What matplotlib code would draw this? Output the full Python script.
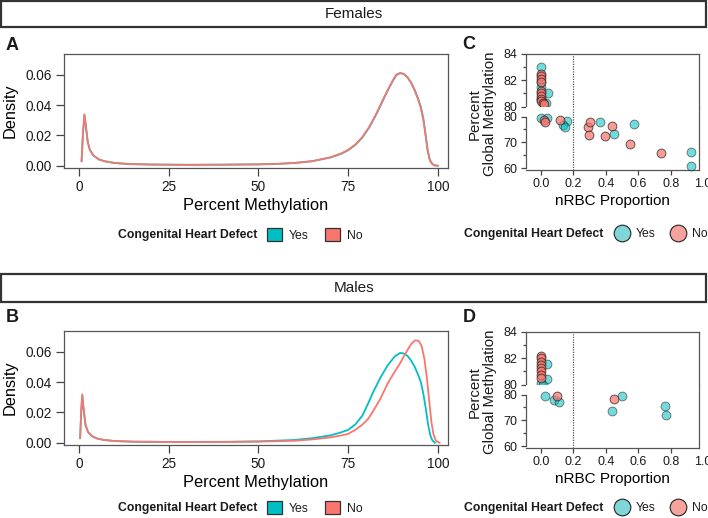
import matplotlib
matplotlib.use('Agg')
import matplotlib.pyplot as plt
from matplotlib.patches import Patch, Rectangle
from matplotlib.lines import Line2D
from matplotlib.ticker import FormatStrFormatter, MultipleLocator

W, H = 708, 518
TEAL = '#00BFC4'
RED = '#F8766D'

# ---- density curves ----
fem_yes_x = [0.7, 1.1, 1.5, 1.9, 2.4, 3.0, 4.0, 5.5, 7.0, 10, 14, 20, 30, 40, 50, 55, 60, 65, 70, 73, 75, 77,
             79, 81, 83, 85, 86.5, 87.5, 88.5, 89.5, 90.5, 91.5, 92.5, 93.5, 94.5, 95.3, 96.0, 96.6, 97.2, 97.8,
             98.5, 99.2, 100]
fem_yes_y = [0.003, 0.022, 0.0335, 0.026, 0.016, 0.0105, 0.0068, 0.0042, 0.003, 0.0018, 0.0011, 0.0008, 0.0006,
             0.0007, 0.0009, 0.0012, 0.0018, 0.003, 0.0054, 0.0078, 0.0102, 0.0137, 0.0187, 0.0257, 0.0346, 0.0446,
             0.0518, 0.0562, 0.06, 0.0611, 0.0606, 0.0586, 0.0553, 0.0504, 0.0445, 0.0387, 0.0308, 0.0207, 0.0100,
             0.0038, 0.0011, 0.0002, 0.0]
fem_no_x = [0.7, 1.1, 1.5, 1.9, 2.4, 3.0, 4.0, 5.5, 7.0, 10, 14, 20, 30, 40, 50, 55, 60, 65, 70, 73, 75, 77,
            79, 81, 83, 85, 86.5, 87.5, 88.5, 89.5, 90.5, 91.5, 92.5, 93.5, 94.5, 95.3, 96.0, 96.6, 97.2, 97.8,
            98.5, 99.2, 100]
fem_no_y = [0.003, 0.022, 0.034, 0.026, 0.016, 0.0105, 0.0068, 0.0042, 0.003, 0.0018, 0.0011, 0.0008, 0.0006,
            0.0007, 0.0009, 0.0012, 0.0018, 0.003, 0.0055, 0.008, 0.0105, 0.014, 0.019, 0.026, 0.035, 0.045,
            0.052, 0.0565, 0.0603, 0.0613, 0.0607, 0.0585, 0.055, 0.050, 0.044, 0.038, 0.030, 0.020, 0.0095,
            0.0035, 0.0010, 0.0002, 0.0]

male_yes_x = [0.3, 0.6, 0.9, 1.3, 1.8, 2.5, 3.5, 5, 7, 10, 15, 25, 40, 50, 60, 65, 70, 73, 75, 77, 79, 80.5,
              82, 84, 86, 88, 89.5, 90.5, 91.5, 92.5, 93.5, 94.5, 95.3, 96.0, 96.7, 97.3, 97.9, 98.5, 99.2]
male_yes_y = [0.003, 0.02, 0.031, 0.021, 0.0115, 0.007, 0.0044, 0.0028, 0.0018, 0.0011, 0.0007, 0.0005, 0.0006,
              0.0009, 0.0018, 0.003, 0.0048, 0.0068, 0.0085, 0.012, 0.018, 0.0255, 0.0335, 0.043, 0.051, 0.057,
              0.0593, 0.059, 0.0575, 0.0545, 0.0505, 0.045, 0.040, 0.032, 0.022, 0.012, 0.005, 0.0015, 0.0]
male_no_x = [0.3, 0.6, 0.9, 1.3, 1.8, 2.5, 3.5, 5, 7, 10, 15, 25, 40, 50, 60, 65, 70, 73, 75, 77, 79, 80.5,
             82, 84, 86, 88, 89.5, 91, 92.5, 93.7, 94.7, 95.5, 96.3, 97, 97.6, 98.2, 98.8, 99.5, 100.5]
male_no_y = [0.003, 0.022, 0.032, 0.022, 0.012, 0.0072, 0.0045, 0.0028, 0.0018, 0.0011, 0.0007, 0.0005, 0.0005,
             0.0007, 0.0013, 0.0022, 0.0035, 0.0048, 0.0058, 0.0085, 0.012, 0.0155, 0.021, 0.029, 0.039, 0.047,
             0.0525, 0.059, 0.065, 0.0677, 0.0672, 0.064, 0.055, 0.042, 0.028, 0.014, 0.0055, 0.0012, 0.0]

# ---- nRBC vs global methylation (upper = 80-84 band, lower = 60-80 band) ----
fem_up_yes_x = [0.0, 0.0, 0.0, 0.045, 0.03, 0.0]
fem_up_yes_y = [83.0, 81.9, 81.5, 81.0, 80.3, 80.6]
fem_up_no_x = [0.0, 0.0, 0.0, 0.0, 0.0, 0.0, 0.0, 0.0, 0.0, 0.01, 0.02]
fem_up_no_y = [82.5, 82.3, 82.1, 81.9, 81.2, 81.0, 80.8, 80.6, 80.4, 80.3, 80.2]
fem_lo_yes_x = [0.0, 0.035, 0.159, 0.134, 0.148, 0.361, 0.452, 0.572, 0.923, 0.927]
fem_lo_yes_y = [79.6, 79.3, 78.4, 76.8, 75.9, 77.7, 73.3, 77.0, 66.2, 60.7]
fem_lo_no_x = [0.02, 0.025, 0.118, 0.287, 0.302, 0.295, 0.438, 0.392, 0.551, 0.743]
fem_lo_no_y = [78.5, 77.8, 78.7, 75.8, 77.7, 72.7, 76.2, 72.5, 69.3, 65.8]

male_up_yes_x = [0.04, 0.035, 0.0, 0.015]
male_up_yes_y = [81.6, 80.4, 80.1, 80.0]
male_up_no_x = [0.0, 0.0, 0.0, 0.0, 0.0, 0.0, 0.0, 0.0]
male_up_no_y = [82.2, 82.0, 81.75, 81.5, 81.25, 81.0, 80.75, 80.5]
male_lo_yes_x = [0.027, 0.078, 0.113, 0.436, 0.498, 0.765, 0.772]
male_lo_yes_y = [79.3, 77.7, 77.2, 73.8, 79.4, 75.7, 71.9]
male_lo_no_x = [0.099, 0.453]
male_lo_no_y = [79.6, 78.4]

plt.rcParams['font.family'] = ['Liberation Sans', 'DejaVu Sans']
plt.rcParams['text.color'] = '#1a1a1a'

fig = plt.figure(figsize=(W / 100, H / 100), dpi=100)


def frect(x0, y0, x1, y1):
    # pixel box (top-left origin) -> figure fraction rect
    return [x0 / W, 1 - y1 / H, (x1 - x0) / W, (y1 - y0) / H]


def header(y0, y1, label):
    fig.add_artist(Rectangle((1 / W, 1 - y1 / H), 705 / W, (y1 - y0) / H, transform=fig.transFigure,
                             facecolor='white', edgecolor='#333333', lw=1.6))
    fig.text(0.5, 1 - (y0 + y1) / 2 / H, label, ha='center', va='center', fontsize=11)


def style(ax, length):
    for s in ax.spines.values():
        s.set_color('#555555')
        s.set_linewidth(0.9)
    ax.tick_params(which='both', color='#444444', width=0.9, labelcolor='#1a1a1a')
    ax.tick_params(which='major', length=length)
    ax.tick_params(which='minor', length=length * 0.7)


def density_panel(y0, ly, curves, letter, let_y):
    ax = fig.add_axes(frect(64, y0, 448, y0 + 114))
    for x, y, c in curves:
        ax.plot(x, y, color=c, lw=1.3)
    ax.set_xlim(-4.2, 102.85)
    ax.set_ylim(-0.0015, 0.0738)
    ax.set_xticks([0, 25, 50, 75, 100])
    ax.set_yticks([0, 0.02, 0.04, 0.06])
    ax.yaxis.set_major_formatter(FormatStrFormatter('%.2f'))
    style(ax, 5.5)
    ax.tick_params(labelsize=9.8, pad=3)
    ax.set_xlabel('Percent Methylation', fontsize=11.8, labelpad=3)
    ax.set_ylabel('Density', fontsize=11.8, labelpad=6)
    fig.text(12 / W, 1 - let_y / H, letter, fontsize=13, fontweight='bold', ha='center', va='center')

    fig.text(257 / W, 1 - ly / H, 'Congenital Heart Defect', fontsize=8.8, fontweight='bold',
             ha='right', va='center')
    handles = [Patch(facecolor=TEAL, edgecolor='#333333', lw=0.9),
               Patch(facecolor=RED, edgecolor='#333333', lw=0.9)]
    fig.legend(handles, ['Yes', 'No'], ncol=2, loc='center left', bbox_to_anchor=(267 / W, 1 - ly / H),
               frameon=False, fontsize=8.8, handlelength=1.25, handleheight=1.25, handletextpad=0.55,
               columnspacing=1.3, borderpad=0, borderaxespad=0)


def scatter_panel(y0, ly, up, lo, letter, let_y):
    top_h = 52.5
    bot_h = 63
    ax_t = fig.add_axes(frect(526, y0, 699, y0 + top_h))
    ax_b = fig.add_axes(frect(526, y0 + top_h, 699, y0 + top_h + bot_h))
    for ax in (ax_t, ax_b):
        ax.set_xlim(-0.0926, 0.975)
        ax.axvline(0.2, color='#555555', ls=(0, (1, 1)), lw=0.9, zorder=1)
        style(ax, 3.5)
        ax.tick_params(labelsize=9, pad=2.5)
    for ax, sets in ((ax_t, up), (ax_b, lo)):
        for x, y, c, a in sets:
            ax.scatter(x, y, s=40, facecolor=c, alpha=a, edgecolor='#222222', lw=0.7, clip_on=False, zorder=3)

    ax_t.set_ylim(80, 84)
    ax_t.set_yticks([80, 82, 84])
    ax_t.yaxis.set_minor_locator(MultipleLocator(1))
    ax_t.spines['bottom'].set_visible(False)
    ax_t.tick_params(axis='x', which='both', bottom=False, labelbottom=False)

    ax_b.set_ylim(59.5, 83.87)
    ax_b.set_yticks([60, 70, 80])
    ax_b.set_yticks([65, 75], minor=True)
    ax_b.spines['top'].set_visible(False)
    ax_b.spines['left'].set_bounds(60, 80)
    ax_b.set_xticks([0, 0.2, 0.4, 0.6, 0.8])
    ax_b.xaxis.set_major_formatter(FormatStrFormatter('%.1f'))
    ax_b.text(1.0, -14.5 / bot_h, '1.0', transform=ax_b.get_xaxis_transform(), ha='center', va='center',
              fontsize=9, clip_on=False)
    ax_b.set_xlabel('nRBC Proportion', fontsize=11, labelpad=3)

    yb = y0 + top_h + bot_h
    fig.text(482 / W, 1 - (y0 + yb + 4) / 2 / H, 'Percent\nGlobal Methylation', rotation=90, ha='center',
             va='center', fontsize=10.8, linespacing=1.1, multialignment='center')
    fig.text(469 / W, 1 - let_y / H, letter, fontsize=13, fontweight='bold', ha='center', va='center')

    fig.text(603 / W, 1 - ly / H, 'Congenital Heart Defect', fontsize=8.8, fontweight='bold',
             ha='right', va='center')
    handles = [Line2D([], [], ls='', marker='o', markersize=12, markerfacecolor='#7fd6d8',
                      markeredgecolor='#222222', markeredgewidth=0.8),
               Line2D([], [], ls='', marker='o', markersize=12, markerfacecolor='#f6a39d',
                      markeredgecolor='#222222', markeredgewidth=0.8)]
    fig.legend(handles, ['Yes', 'No'], ncol=2, loc='center left', bbox_to_anchor=(613 / W, 1 - ly / H),
               frameon=False, fontsize=8.8, handlelength=1.45, handletextpad=0.4, columnspacing=1.15,
               borderpad=0, borderaxespad=0)


# Females
header(1, 27, 'Females')
density_panel(54, 235, [(fem_yes_x, fem_yes_y, TEAL), (fem_no_x, fem_no_y, RED)], 'A', 45.5)
scatter_panel(54, 234,
              [(fem_up_yes_x, fem_up_yes_y, TEAL, 0.55), (fem_up_no_x, fem_up_no_y, RED, 0.72)],
              [(fem_lo_yes_x, fem_lo_yes_y, TEAL, 0.55), (fem_lo_no_x, fem_lo_no_y, RED, 0.72)], 'C', 44.5)

# Males
header(274, 301.5, 'Males')
density_panel(331, 508, [(male_yes_x, male_yes_y, TEAL), (male_no_x, male_no_y, RED)], 'B', 317.5)
scatter_panel(332, 508,
              [(male_up_yes_x, male_up_yes_y, TEAL, 0.55), (male_up_no_x, male_up_no_y, RED, 0.72)],
              [(male_lo_yes_x, male_lo_yes_y, TEAL, 0.55), (male_lo_no_x, male_lo_no_y, RED, 0.72)], 'D', 317.5)

fig.savefig('out.png', dpi=100)
